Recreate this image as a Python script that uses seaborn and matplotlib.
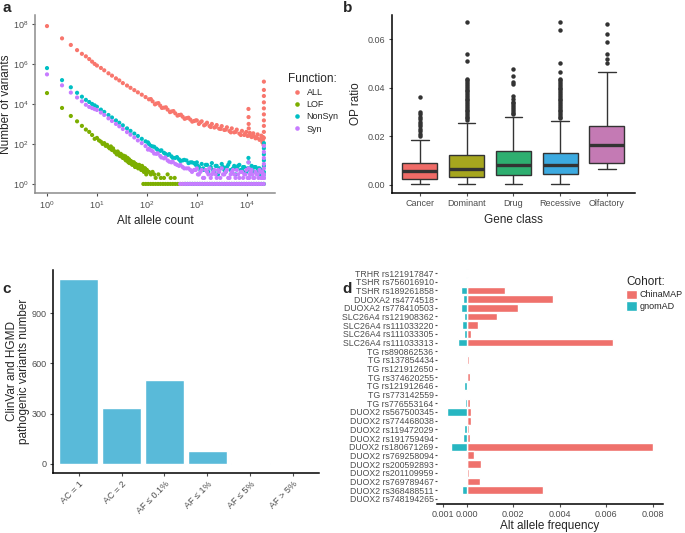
import pandas as pd
import matplotlib
matplotlib.use("Agg")
import matplotlib.pyplot as plt
from matplotlib.ticker import FixedLocator, FixedFormatter
import seaborn as sns

sns.set_style("ticks")
plt.rcParams["font.family"] = ["Liberation Sans", "DejaVu Sans"]
plt.rcParams["mathtext.default"] = "regular"

# ---- panel a: allele count spectrum ----
all_ac = [1, 2, 3, 4, 5, 6, 7, 8, 9, 10,
          12, 14, 17, 20, 24, 28, 33, 40, 47, 56, 66, 79, 94, 110, 130, 155, 185, 220, 260, 310, 370, 440, 520, 620, 740, 880,
          1000, 1100, 1250, 1400, 1600, 1800, 2000, 2250, 2500, 2800, 3150, 3550, 4000, 4500, 5000, 5600, 6300, 7100, 8000, 8900, 9800, 10400,
          10800, 10850, 10900, 10950, 11500, 12500, 13500, 15000, 16500, 18000, 19500, 20500, 21200, 21700,
          22000, 22000, 22000, 22000, 22000, 22000, 22000, 22000, 22000, 22000,
          120, 145, 170, 200, 240, 290, 340, 410, 480, 570, 680, 810, 950, 1180, 1500, 1900, 2400, 3000, 3800,
          4800, 6000, 7600, 9200, 11800, 14000, 16000, 19000, 21000]
all_n = [7.8e7, 1.9e7, 8.9e6, 4.9e6, 3.2e6, 2.4e6, 1.75e6, 1.3e6, 1.0e6, 8.3e5,
         6.3e5, 4.8e5, 3.4e5, 2.6e5, 1.9e5, 1.5e5, 1.1e5, 8.3e4, 6.4e4, 4.9e4, 3.8e4, 2.9e4, 2.2e4, 1.7e4, 1.35e4, 1.05e4, 8.2e3, 6.5e3, 5.2e3, 4.2e3, 3.4e3, 2.8e3, 2.3e3, 1.95e3, 1.65e3, 1.4e3,
         1500, 1000, 1350, 850, 1150, 780, 1000, 660, 880, 580, 780, 500, 680, 440, 600, 380, 520, 330, 450, 280, 400, 250,
         5600, 2200, 1000, 600, 360, 220, 340, 190, 300, 160, 260, 120, 220, 90,
         1.3e5, 5e4, 2.5e4, 1.2e4, 6e3, 3e3, 1.5e3, 800, 400, 200,
         1.75e4, 9.5e3, 1.1e4, 6.3e3, 6.8e3, 3.9e3, 4.4e3, 2.6e3, 2.9e3, 1.8e3, 2.05e3, 1.3e3, 1.5e3, 1200, 950,
         700, 720, 560, 520, 380, 400, 280, 330, 260, 240, 200, 180, 160]

lof_ac = [1, 2, 3, 4, 5, 6, 7, 8, 9, 10, 11, 12, 13, 14, 15, 16, 17, 18, 19, 20,
          22, 24, 25, 27, 29, 31, 33, 35, 38, 40, 43, 46, 50, 53, 57, 60, 65, 70, 75, 80,
          85, 90, 95, 100, 110, 120, 130, 140, 150, 170, 190, 220, 260, 300, 360,
          21, 23, 26, 28, 30, 32, 34, 36, 37, 39, 41, 42, 44, 45, 48, 51, 55, 58, 62, 67, 72, 77, 82, 87, 92, 97]
lof_n = [3.5e4, 6.3e3, 2.5e3, 1.35e3, 800, 525, 400, 280, 180, 200, 150, 130, 100, 110, 80, 90, 70, 60, 75, 50,
         45, 40, 30, 35, 25, 28, 20, 22, 15, 18, 12, 14, 10, 12, 8, 10, 7, 9, 6, 8,
         5, 6, 4, 5, 4, 3, 4, 3, 2, 3, 2, 2, 3, 2, 2,
         60, 38, 42, 27, 32, 22, 26, 18, 24, 16, 20, 13, 17, 11, 14, 9, 12, 7, 9, 6, 8, 5, 7, 4, 6, 3]

nonsyn_ac = [1, 2, 3, 4, 5, 6, 7, 8, 9, 10,
             12, 14, 17, 20, 24, 28, 33, 40, 47, 56, 66, 79, 94, 110, 130, 155, 185, 220, 260, 310, 370, 440, 520, 620, 740, 880,
             1000, 1100, 1250, 1400, 1600, 1800, 2000, 2250, 2500, 2800, 3150, 3550, 4000, 4500, 5000, 5600, 6300, 7100, 8000, 8900, 9800, 10400,
             10800, 10900, 11500, 12500, 13500, 15000, 16500, 18000, 19500, 20500, 21200,
             22000, 22000, 22000, 22000, 22000, 22000, 22000, 22000,
             105, 120, 140, 165, 195, 235, 280, 330, 400, 470, 560, 680, 800, 950,
             1050, 1180, 1330, 1500, 1700, 1900, 2120, 2380, 2650, 2950, 3350, 3780, 4250, 4750, 5300, 5950, 6700,
             7550, 8450, 9350, 11200, 12000, 13000, 14200, 15800, 17200, 18800, 20000, 21000]
nonsyn_n = [6.2e5, 1.55e5, 6.8e4, 3.6e4, 2.3e4, 1.6e4, 1.25e4, 1.0e4, 8.5e3, 7.2e3,
            5.2e3, 4.0e3, 2.8e3, 2.1e3, 1.5e3, 1.15e3, 850, 600, 450, 330, 250, 180, 135, 100, 75, 58, 45, 36, 28, 24, 20, 17, 15, 15, 12, 11,
            12, 7, 10, 5, 9, 6, 11, 4, 8, 6, 10, 5, 7, 12, 4, 8, 6, 9, 5, 7, 4, 6,
            20, 12, 5, 8, 4, 7, 5, 6, 4, 5, 3,
            110, 60, 30, 15, 8, 4, 3, 2,
            120, 80, 72, 50, 48, 32, 31, 20, 22, 14, 16, 11, 12, 9,
            8, 5, 6, 9, 4, 7, 5, 8, 3, 6, 7, 4, 9, 5, 6, 3, 8,
            5, 7, 4, 6, 3, 5, 7, 4, 6, 3, 5, 4]

syn_ac = list(nonsyn_ac)
syn_n = [3.0e5, 8.5e4, 3.7e4, 2.1e4, 1.35e4, 9.1e3, 7.1e3, 6.2e3, 5.5e3, 5.0e3,
         3.7e3, 2.8e3, 1.9e3, 1.4e3, 1.0e3, 760, 560, 390, 290, 210, 150, 110, 78, 58, 43, 32, 25, 19, 15, 12, 10, 8, 7, 6, 5, 5,
         6, 3, 5, 2, 4, 6, 3, 5, 2, 4, 6, 3, 5, 2, 4, 3, 5, 2, 4, 3, 5, 2,
         12, 6, 3, 5, 2, 4, 3, 5, 2, 4, 3,
         80, 40, 20, 10, 6, 3, 2, 2,
         52, 48, 33, 34, 21, 21, 13, 13, 9, 9, 6, 6, 4, 5,
         3, 4, 2, 5, 3, 2, 4, 3, 5, 2, 3, 4, 2, 3, 5, 2, 3,
         4, 2, 3, 2, 4, 3, 2, 3, 2, 4, 2, 3]

# allele counts carrying a single variant (the flat row at 10^0)
single_ac = [85, 95, 106, 119, 133, 149, 167, 187, 210, 235, 263, 295, 330, 370, 414, 464, 519, 582, 651, 730,
             817, 915, 1025, 1148, 1286, 1440, 1613, 1806, 2023, 2266, 2538, 2842, 3184, 3566, 3994, 4473, 5010,
             5611, 6284, 7038, 7883, 8829, 9888, 11075, 12404, 13892, 15559, 17426, 19518, 21860]

functions = ["ALL", "LOF", "NonSyn", "Syn"]
fn_colors = ["#F8766D", "#7CAE00", "#00BFC4", "#C77CFF"]

# ---- panel b: OP ratio per gene class ----
gene_classes = ["Cancer", "Dominant", "Drug", "Recessive", "Olfactory"]
# min, Q1, median, Q3, max (whisker ends)
cancer_box = [0.0003, 0.0023, 0.0057, 0.0091, 0.0186]
dominant_box = [0.0003, 0.0033, 0.0064, 0.0122, 0.0254]
drug_box = [0.0003, 0.0041, 0.0083, 0.0138, 0.0278]
recessive_box = [0.0003, 0.0045, 0.0081, 0.0132, 0.0263]
olfactory_box = [0.0066, 0.0091, 0.0164, 0.0244, 0.0464]
cancer_out = [0.0362, 0.0301, 0.0292, 0.0281, 0.0271, 0.026, 0.025, 0.024, 0.0229, 0.022, 0.021, 0.0202]
dominant_out = [0.067, 0.0538, 0.0511, 0.0437, 0.043, 0.0422, 0.0415, 0.0408, 0.04, 0.0392, 0.0385, 0.0377,
                0.037, 0.0362, 0.0355, 0.0348, 0.034, 0.0333, 0.0325, 0.0318, 0.031, 0.0303, 0.0296, 0.0288,
                0.028, 0.0273, 0.0267]
drug_out = [0.0475, 0.0447, 0.0423, 0.0414, 0.0366, 0.0355, 0.0342, 0.0335, 0.0327, 0.032, 0.0312, 0.0305,
            0.0297, 0.029]
recessive_out = [0.067, 0.0639, 0.0503, 0.0464, 0.0437, 0.043, 0.0423, 0.0415, 0.0408, 0.04, 0.0393, 0.0385,
                 0.0378, 0.037, 0.0363, 0.0355, 0.0348, 0.034, 0.0333, 0.0325, 0.0318, 0.031, 0.0303, 0.0296,
                 0.0288, 0.0281, 0.0274]
olfactory_out = [0.0663, 0.062, 0.059, 0.0538, 0.0518, 0.05]
class_colors = ["#EF6B67", "#A6A61E", "#2EAF70", "#3CAAE0", "#C47AB4"]

# ---- panel c: pathogenic variants by frequency bin ----
freq_bins = ["AC = 1", "AC = 2", "AF \u2264 0.1%", "AF \u2264 1%", "AF \u2264 5%", "AF > 5%"]
pathogenic_n = [1103, 332, 499, 78, 5, 1]

# ---- panel d: ChinaMAP vs gnomAD allele frequency ----
variants = ["TRHR rs121917847", "TSHR rs756016910", "TSHR rs189261858", "DUOXA2 rs4774518",
            "DUOXA2 rs778410503", "SLC26A4 rs121908362", "SLC26A4 rs111033220", "SLC26A4 rs111033305",
            "SLC26A4 rs111033313", "TG rs890862536", "TG rs137854434", "TG rs121912650", "TG rs374620255",
            "TG rs121912646", "TG rs773142559", "TG rs776553164", "DUOX2 rs567500345", "DUOX2 rs774468038",
            "DUOX2 rs119472029", "DUOX2 rs191759494", "DUOX2 rs180671269", "DUOX2 rs769258094",
            "DUOX2 rs200592893", "DUOX2 rs201109959", "DUOX2 rs769789467", "DUOX2 rs368488511",
            "DUOX2 rs748194265"]
chinamap_af = [0.00006, 0.00004, 0.00165, 0.0037, 0.00223, 0.00131, 0.00048, 0.00019,
               0.0063, 0.00003, 0.00009, 0.00004, 0.00014, 0.00004, 0.00003, 0.00013,
               0.0002, 0.0002, 0.00009, 0.00014, 0.0080, 0.0003, 0.00064, 0.00009,
               0.00058, 0.0033, 0.00004]
gnomad_af = [0.00002, 0.00002, 0.00023, 0.00014, 0.00026, 0.00013, 0.0002, 0.00011,
             0.00037, 0.00001, 0.00003, 0.00001, 0.00001, 0.00011, 0.00003, 0.00007,
             0.00083, 0.00001, 0.00009, 0.00016, 0.00067, 0.00002, 0.00001, 0.00004,
             0.00002, 0.0002, 0.00001]
cohort_colors = {"ChinaMAP": "#EF716C", "gnomAD": "#27B6C1"}

TICK = "#4D4D4D"


def style_axis(ax, spine_color="black"):
    for s in ["top", "right"]:
        ax.spines[s].set_visible(False)
    for s in ["left", "bottom"]:
        ax.spines[s].set_color(spine_color)
        ax.spines[s].set_linewidth(1.1)
    ax.tick_params(colors=TICK, labelsize=6.5, length=2.5, width=0.8, pad=2)


fig = plt.figure(figsize=(6.85, 5.33), dpi=100)

# panel a
var_df = pd.concat([
    pd.DataFrame({"ac": all_ac, "n": all_n, "Function": "ALL"}),
    pd.DataFrame({"ac": lof_ac + single_ac, "n": lof_n + [1] * len(single_ac), "Function": "LOF"}),
    pd.DataFrame({"ac": nonsyn_ac + single_ac[17:], "n": nonsyn_n + [1] * len(single_ac[17:]), "Function": "NonSyn"}),
    pd.DataFrame({"ac": syn_ac + single_ac[15:], "n": syn_n + [1] * len(single_ac[15:]), "Function": "Syn"}),
], ignore_index=True)

ax = fig.add_axes([0.0511, 0.638, 0.350, 0.334])
sns.scatterplot(data=var_df, x="ac", y="n", hue="Function", hue_order=functions,
                palette=fn_colors, s=9, linewidth=0, ax=ax)
ax.set_xscale("log")
ax.set_yscale("log")
ax.set_xlim(10 ** -0.24, 10 ** 4.56)
ax.set_ylim(10 ** -0.45, 10 ** 8.45)
ax.xaxis.set_major_locator(FixedLocator([1, 10, 100, 1000, 10000]))
ax.yaxis.set_major_locator(FixedLocator([1, 1e2, 1e4, 1e6, 1e8]))
ax.minorticks_off()
ax.xaxis.set_major_formatter(FixedFormatter([r"$10^{0}$", r"$10^{1}$", r"$10^{2}$", r"$10^{3}$", r"$10^{4}$"]))
ax.yaxis.set_major_formatter(FixedFormatter([r"$10^{0}$", r"$10^{2}$", r"$10^{4}$", r"$10^{6}$", r"$10^{8}$"]))
style_axis(ax, "#8C8C8C")
ax.set_xlabel("Alt allele count", fontsize=8.5, labelpad=3)
ax.set_ylabel("Number of variants", fontsize=8.5)
ax.yaxis.set_label_coords(-0.095, 0.5)
leg = ax.legend(title="Function:", loc="upper left", bbox_to_anchor=(1.02, 0.72), frameon=False,
                fontsize=6.5, title_fontsize=8.5, markerscale=1.1, handletextpad=0.1, labelspacing=0.35)
leg._legend_box.align = "left"

# panel b
box_df = pd.DataFrame({
    "Gene class": [c for c, v in zip(gene_classes, [cancer_box, dominant_box, drug_box, recessive_box, olfactory_box]) for _ in v],
    "OP ratio": cancer_box + dominant_box + drug_box + recessive_box + olfactory_box,
})
out_df = pd.DataFrame({
    "Gene class": ["Cancer"] * len(cancer_out) + ["Dominant"] * len(dominant_out) + ["Drug"] * len(drug_out)
                  + ["Recessive"] * len(recessive_out) + ["Olfactory"] * len(olfactory_out),
    "OP ratio": cancer_out + dominant_out + drug_out + recessive_out + olfactory_out,
})
ax = fig.add_axes([0.572, 0.638, 0.355, 0.334])
sns.boxplot(data=box_df, x="Gene class", y="OP ratio", hue="Gene class", order=gene_classes,
            hue_order=gene_classes, palette=class_colors, whis=(0, 100), showfliers=False, width=0.75,
            linecolor="#333333", linewidth=1.0, saturation=1, legend=False,
            medianprops=dict(linewidth=2.4, color="#333333"), ax=ax)
sns.stripplot(data=out_df, x="Gene class", y="OP ratio", order=gene_classes, jitter=False,
              color="#333333", size=3.2, ax=ax)
ax.set_ylim(-0.0034, 0.0700)
ax.set_yticks([0, 0.02, 0.04, 0.06])
ax.set_yticklabels(["0.00", "0.02", "0.04", "0.06"])
ax.set_xlim(-0.6, 4.6)
style_axis(ax)
ax.set_xlabel("Gene class", fontsize=8.5)
ax.set_ylabel("OP ratio", fontsize=8.5)

# panel c
ax = fig.add_axes([0.0774, 0.1126, 0.388, 0.381])
sns.barplot(x=freq_bins, y=pathogenic_n, color="#59BAD9", width=0.9, saturation=1, ax=ax)
ax.set_ylim(-55, 1158)
ax.set_xlim(-0.6, 5.6)
ax.set_yticks([0, 300, 600, 900])
style_axis(ax)
ax.tick_params(axis="x", labelrotation=45)
for lab in ax.get_xticklabels():
    lab.set_ha("right")
    lab.set_rotation_mode("anchor")
ax.set_ylabel("ClinVar and HGMD\npathogenic variants number", fontsize=8.5, linespacing=1.1)
ax.yaxis.set_label_coords(-0.085, 0.5)

# panel d
af_df = pd.concat([
    pd.DataFrame({"variant": variants, "freq": chinamap_af, "Cohort": "ChinaMAP"}),
    pd.DataFrame({"variant": variants, "freq": [-v for v in gnomad_af], "Cohort": "gnomAD"}),
], ignore_index=True)
ax = fig.add_axes([0.638, 0.0544, 0.330, 0.443])
sns.barplot(data=af_df, y="variant", x="freq", hue="Cohort", order=variants, dodge=False,
            palette=cohort_colors, width=0.9, saturation=1, orient="h", ax=ax)
ax.set_xlim(-0.00127, 0.00845)
ax.set_ylim(26.6, -0.6)
ax.set_xticks([-0.001, 0, 0.002, 0.004, 0.006, 0.008])
ax.set_xticklabels(["0.001", "0.000", "0.002", "0.004", "0.006", "0.008"])
style_axis(ax)
ax.spines["left"].set_visible(False)
ax.tick_params(axis="y", length=1.5, labelsize=6.3, pad=1)
ax.tick_params(axis="x", pad=1.5)
ax.set_ylabel("")
ax.set_xlabel("Alt allele frequency", fontsize=8.5, labelpad=1)
leg = ax.legend(title="Cohort:", loc="upper left", bbox_to_anchor=(0.80, 1.0), frameon=False,
                fontsize=6.5, title_fontsize=8.5, handlelength=1.2, handleheight=1.2,
                handletextpad=0.3, labelspacing=0.2)
leg._legend_box.align = "left"

for letter, x, y in [("a", 0.004, 0.998), ("b", 0.5, 0.998), ("c", 0.004, 0.47), ("d", 0.5, 0.47)]:
    fig.text(x, y, letter, fontsize=11, fontweight="bold", va="top", ha="left")

fig.savefig("out.png", dpi=100)
